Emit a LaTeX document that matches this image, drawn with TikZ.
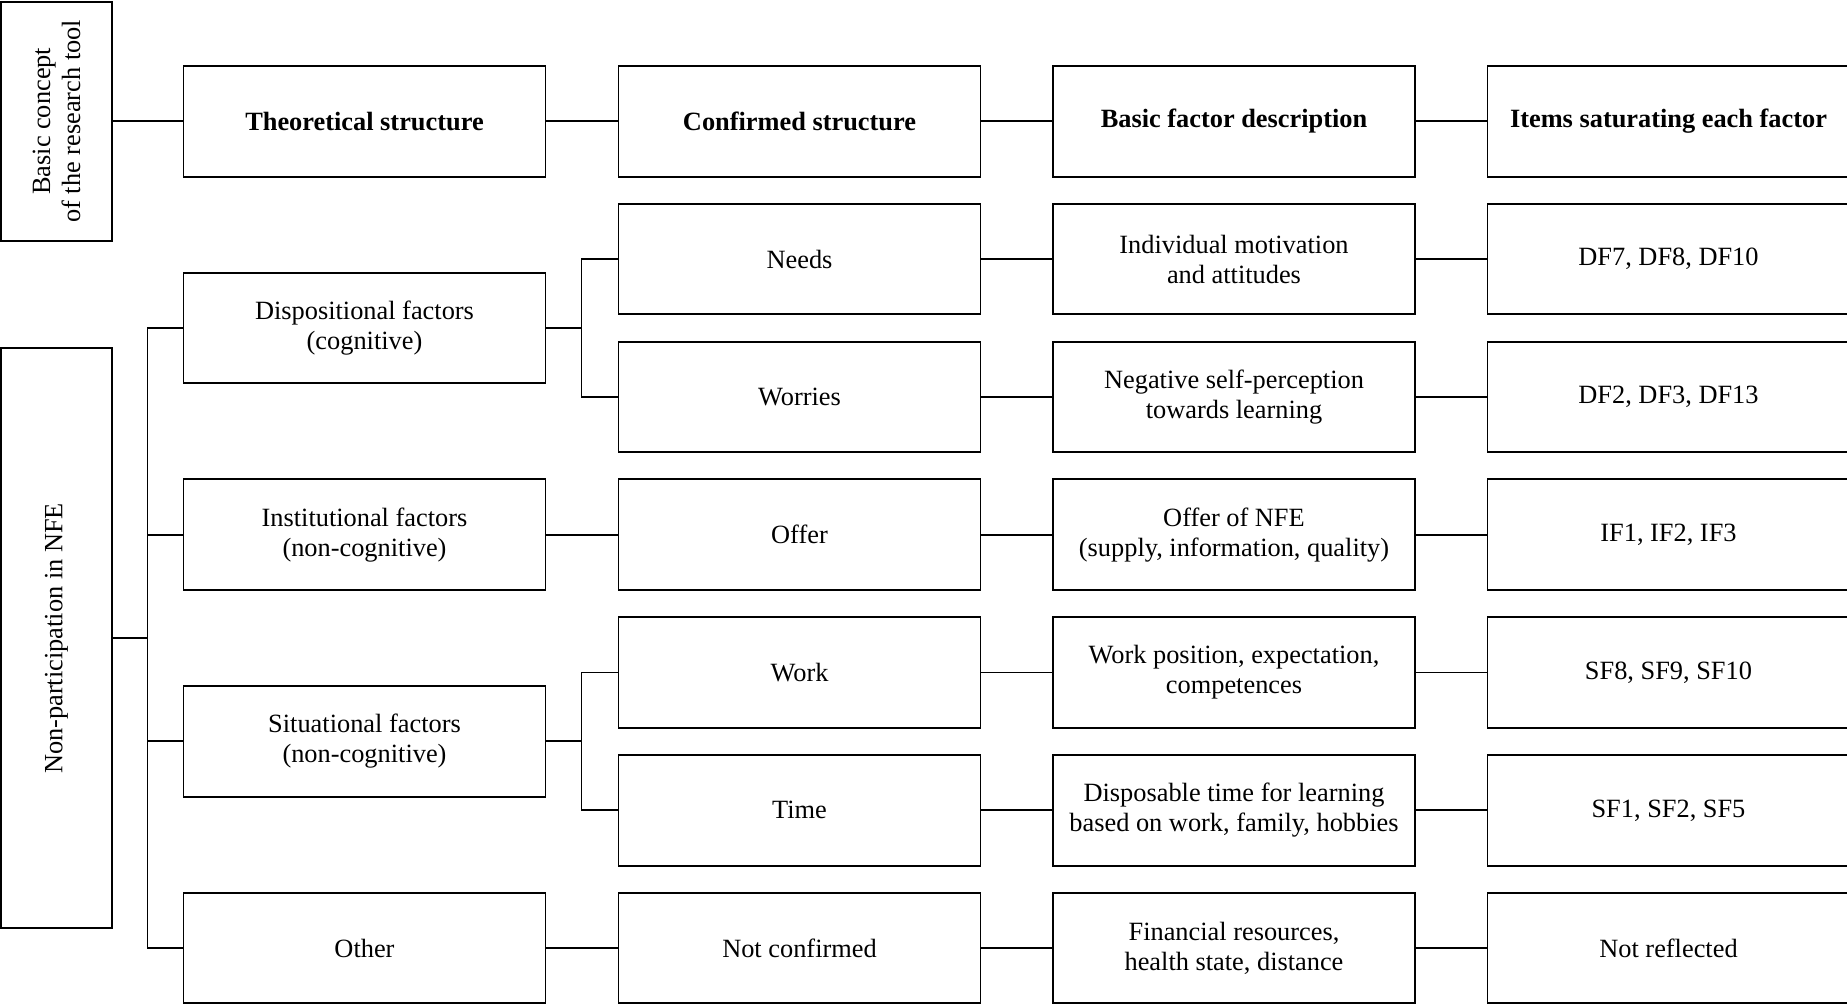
\documentclass[tikz,border=0pt]{standalone}
\usepackage{fontspec}
\setmainfont{Liberation Serif}

\begin{document}
\begin{tikzpicture}[
	box/.style={draw=black, line width=1.1pt, rectangle, minimum width=7.24cm, minimum height=2.21cm, inner sep=2pt, align=center, font=\fontsize{15}{17}\selectfont},
	head/.style={box, font=\fontsize{15}{17}\selectfont\bfseries},
	side/.style={box, rotate=90, minimum height=2.22cm},
	link/.style={line width=1.1pt}
	]
	\useasboundingbox (0,0) rectangle (36.94,-20.1);
	\fill[white] (0,0) rectangle (36.94,-20.1);
	
	%left boxes
	\node[side, minimum width=4.78cm] (basic) at (1.13,-2.426) {Basic concept\\of the research tool};
	\node[side, minimum width=11.6cm] (np) at (1.13,-12.768) {Non-participation in NFE};
	
	%header row
	\node[head] (theo)  at (7.29,-2.426)  {Theoretical structure};
	\node[head] (conf)  at (15.99,-2.426) {Confirmed structure};
	\node[head] (desc)  at (24.68,-2.426) {Basic factor description};
	\node[head] (items) at (33.37,-2.426) {Items saturating each factor};
	
	%theoretical structure
	\node[box] (disp)  at (7.29,-6.56)   {Dispositional factors\\(cognitive)};
	\node[box] (inst)  at (7.29,-10.694) {Institutional factors\\(non-cognitive)};
	\node[box] (sit)   at (7.29,-14.828) {Situational factors\\(non-cognitive)};
	\node[box] (other) at (7.29,-18.962) {Other};
	
	%confirmed structure
	\node[box] (needs)   at (15.99,-5.182)  {Needs};
	\node[box] (worries) at (15.99,-7.938)  {Worries};
	\node[box] (offer)   at (15.99,-10.694) {Offer};
	\node[box] (work)    at (15.99,-13.45)  {Work};
	\node[box] (time)    at (15.99,-16.206) {Time};
	\node[box] (notconf) at (15.99,-18.962) {Not confirmed};
	
	%factor descriptions
	\node[box] (motiv)    at (24.68,-5.182)  {Individual motivation\\and attitudes};
	\node[box] (selfp)    at (24.68,-7.938)  {Negative self-perception\\towards learning};
	\node[box] (nfe)      at (24.68,-10.694) {Offer of NFE\\(supply, information, quality)};
	\node[box] (workpos)  at (24.68,-13.45)  {Work position, expectation,\\competences};
	\node[box] (disptime) at (24.68,-16.206) {Disposable time for learning\\based on work, family, hobbies};
	\node[box] (financ)   at (24.68,-18.962) {Financial resources,\\health state, distance};
	
	%items
	\node[box] (itdf7)  at (33.37,-5.182)  {DF7, DF8, DF10};
	\node[box] (itdf2)  at (33.37,-7.938)  {DF2, DF3, DF13};
	\node[box] (itif)   at (33.37,-10.694) {IF1, IF2, IF3};
	\node[box] (itsf8)  at (33.37,-13.45)  {SF8, SF9, SF10};
	\node[box] (itsf1)  at (33.37,-16.206) {SF1, SF2, SF5};
	\node[box] (itnone) at (33.37,-18.962) {Not reflected};
	
	%bus points
	\coordinate (bus)  at (2.95,-12.768);
	\coordinate (dbus) at (11.63,-6.56);
	\coordinate (sbus) at (11.63,-14.828);
	
	%lines
	\draw[link] (basic.south) -- (theo.west);
	\draw[link] (theo.east) -- (conf.west) (conf.east) -- (desc.west) (desc.east) -- (items.west);
	%
	\draw[link] (np.south) -- (bus);
	\draw[link] (disp.west) -| (bus) |- (other.west);
	\draw[link] (inst.west) -- (inst.west -| bus);
	\draw[link] (sit.west) -- (sit.west -| bus);
	%
	\draw[link] (disp.east) -- (dbus);
	\draw[link] (needs.west) -| (dbus) |- (worries.west);
	\draw[link] (sit.east) -- (sbus);
	\draw[link] (work.west) -| (sbus) |- (time.west);
	\draw[link] (inst.east) -- (offer.west);
	\draw[link] (other.east) -- (notconf.west);
	%
	\draw[link] (needs.east) -- (motiv.west) (motiv.east) -- (itdf7.west);
	\draw[link] (worries.east) -- (selfp.west) (selfp.east) -- (itdf2.west);
	\draw[link] (offer.east) -- (nfe.west) (nfe.east) -- (itif.west);
	\draw[link] (work.east) -- (workpos.west) (workpos.east) -- (itsf8.west);
	\draw[link] (time.east) -- (disptime.west) (disptime.east) -- (itsf1.west);
	\draw[link] (notconf.east) -- (financ.west) (financ.east) -- (itnone.west);
	
\end{tikzpicture}
\end{document}
